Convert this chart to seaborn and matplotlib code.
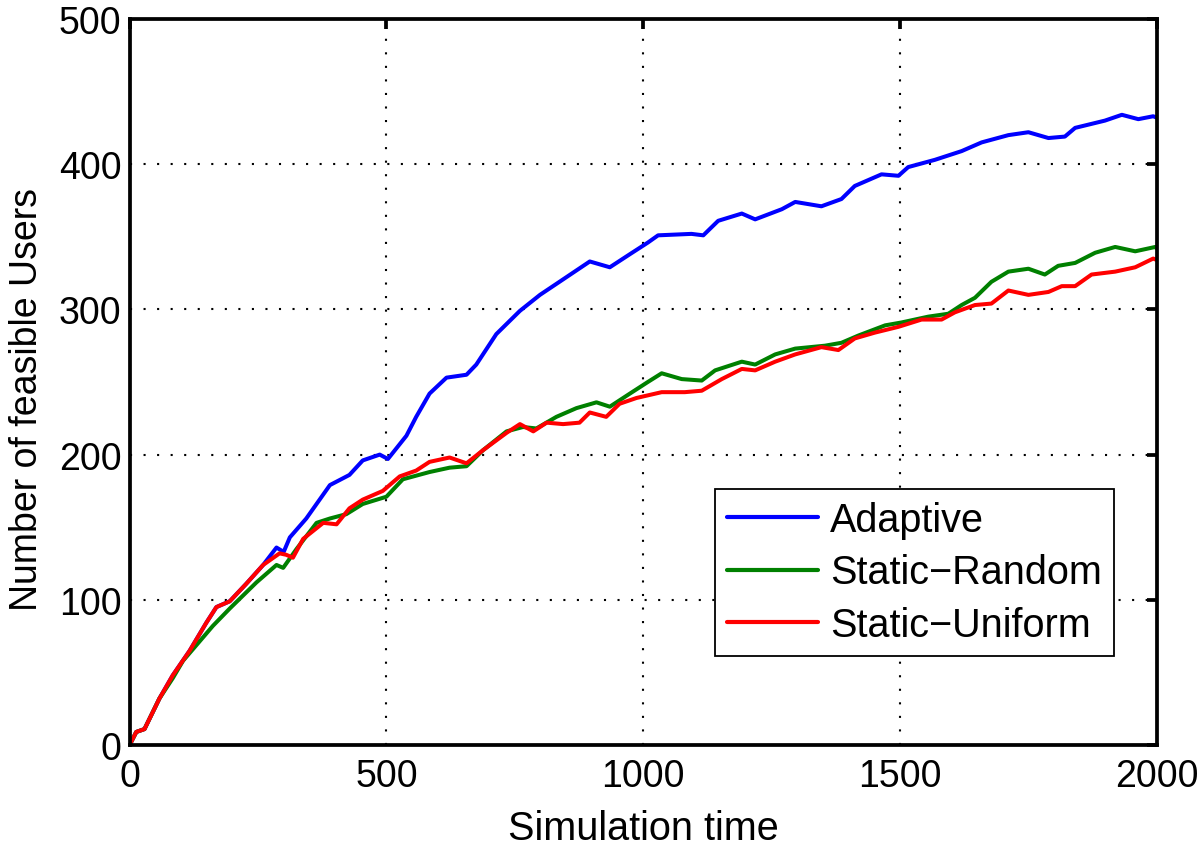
import pandas as pd
import seaborn as sns
import matplotlib.pyplot as plt

# --- data ---
adaptive_x = [0, 13, 29, 58, 84, 117, 149, 169, 195, 227, 260, 286, 300, 312, 344, 390, 428, 454,
              487, 503, 539, 558, 584, 617, 656, 675, 714, 760, 799, 837, 896, 935, 974, 1009,
              1029, 1094, 1117, 1146, 1192, 1218, 1270, 1296, 1347, 1386, 1412, 1464, 1497, 1516,
              1568, 1620, 1659, 1711, 1750, 1789, 1821, 1841, 1899, 1932, 1964, 1993, 2000]
adaptive_y = [0, 9, 11, 32, 48, 65, 84, 95, 99, 111, 124, 136, 133, 143, 156, 179, 186, 196,
              200, 197, 213, 226, 242, 253, 255, 262, 283, 299, 310, 319, 333, 329, 338, 346,
              351, 352, 351, 361, 366, 362, 369, 374, 371, 376, 385, 393, 392, 398,
              403, 409, 415, 420, 422, 418, 419, 425, 430, 434, 431, 433, 432]

random_x = [0, 13, 29, 58, 84, 104, 162, 195, 247, 286, 299, 325, 364, 390, 422, 454, 500, 532,
            584, 623, 656, 688, 734, 766, 792, 831, 870, 909, 935, 974, 1009, 1036, 1075, 1114,
            1140, 1192, 1218, 1257, 1296, 1354, 1386, 1419, 1471, 1503, 1555, 1594, 1620, 1646,
            1678, 1711, 1750, 1782, 1808, 1841, 1880, 1919, 1958, 1997, 2000]
random_y = [0, 9, 11, 32, 46, 58, 82, 94, 112, 124, 122, 135, 153, 156, 159, 166, 171, 183,
            188, 191, 192, 203, 216, 219, 218, 226, 232, 236, 233, 242, 250, 256, 252, 251,
            258, 264, 262, 269, 273, 275, 277, 282, 289, 291, 295, 297, 303, 308,
            319, 326, 328, 324, 330, 332, 339, 343, 340, 343, 342]

uniform_x = [0, 13, 29, 58, 84, 117, 149, 169, 195, 227, 260, 292, 305, 318, 338, 377, 403, 428,
             454, 493, 526, 558, 584, 623, 656, 688, 734, 760, 786, 812, 844, 876, 896, 928, 954,
             987, 1036, 1081, 1114, 1153, 1192, 1218, 1257, 1296, 1347, 1380, 1412, 1451, 1497,
             1542, 1581, 1607, 1646, 1678, 1711, 1750, 1789, 1815, 1841, 1873, 1919, 1958, 1993, 2000]
uniform_y = [0, 9, 11, 32, 48, 65, 84, 95, 99, 111, 124, 132, 131, 129, 142, 153, 152, 163,
             169, 175, 185, 189, 195, 198, 194, 203, 215, 221, 216, 222, 221, 222, 229, 226, 235,
             239, 243, 243, 244, 252, 259, 258, 264, 269, 274, 272, 280, 284, 288,
             293, 293, 298, 303, 304, 313, 310, 312, 316, 316, 324, 326, 329, 335, 334]

series_names = ["Adaptive", "Static\u2212Random", "Static\u2212Uniform"]
series_colors = ["#0000ff", "#008000", "#ff0000"]

x_ticks = [0, 500, 1000, 1500, 2000]
y_ticks = [0, 100, 200, 300, 400, 500]

frames = []
for name, xs, ys in zip(series_names,
                        [adaptive_x, random_x, uniform_x],
                        [adaptive_y, random_y, uniform_y]):
    frames.append(pd.DataFrame({"time": xs, "users": ys, "method": name}))
df = pd.concat(frames, ignore_index=True)

sns.set_theme(style="white")
plt.rcParams["font.family"] = ["Liberation Sans", "DejaVu Sans"]
plt.rcParams["text.color"] = "black"

fig = plt.figure(figsize=(12, 8.53), dpi=100)
ax = fig.add_axes([0.108, 0.1254, 0.856, 0.8512])

sns.lineplot(data=df, x="time", y="users", hue="method", hue_order=series_names,
             palette=dict(zip(series_names, series_colors)), estimator=None, sort=False,
             linewidth=2.9, ax=ax)

ax.set_xlim(0, 2000)
ax.set_ylim(0, 500)
ax.set_xticks(x_ticks)
ax.set_yticks(y_ticks)
ax.grid(True, color="black", linestyle=(0, (1, 5.5)), linewidth=1.5)
ax.set_axisbelow(True)

for sp in ax.spines.values():
    sp.set_visible(True)
    sp.set_color("black")
    sp.set_linewidth(2.7)

ax.tick_params(axis="both", which="major", direction="in", length=7, width=2.7,
               labelsize=27, colors="black", top=True, right=True)
ax.tick_params(axis="x", pad=9)
ax.tick_params(axis="y", pad=6)

ax.set_xlabel("Simulation time", fontsize=28.5, color="black", labelpad=11)
ax.set_ylabel("Number of feasible Users", fontsize=27, color="black")
ax.yaxis.set_label_coords(-0.082, 0.4766)

leg = ax.legend(loc="lower right", bbox_to_anchor=(0.958, 0.1226), fontsize=28.5,
                frameon=True, fancybox=False, edgecolor="black", framealpha=1,
                handlelength=2.3, handletextpad=0.3, borderpad=0.3, labelspacing=0.37,
                borderaxespad=0)
leg.get_frame().set_linewidth(1.3)
for line in leg.get_lines():
    line.set_linewidth(3)
for txt in leg.get_texts():
    txt.set_color("black")

fig.savefig("out.png", dpi=100, facecolor="white")
